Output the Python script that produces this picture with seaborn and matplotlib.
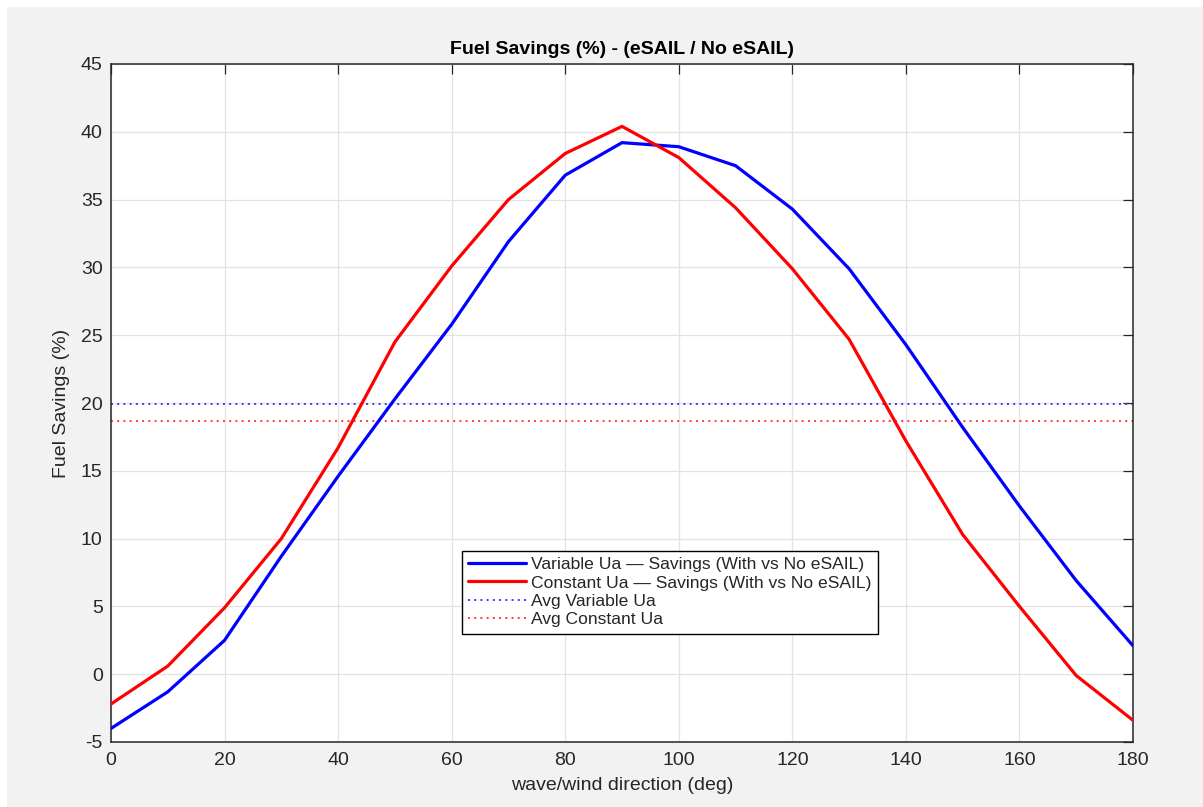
import numpy as np
import pandas as pd
import matplotlib
matplotlib.use("Agg")
import matplotlib.pyplot as plt
from matplotlib.patches import Rectangle
import seaborn as sns

# Wave/wind direction samples (deg)
direction_deg = [0, 10, 20, 30, 40, 50, 60, 70, 80, 90,
                 100, 110, 120, 130, 140, 150, 160, 170, 180]

# Fuel savings (%) with eSAIL relative to no eSAIL
savings_variable_ua = [-4.0, -1.3, 2.5, 8.7, 14.6, 20.3, 25.8, 31.9, 36.8, 39.2,
                       38.9, 37.5, 34.3, 29.9, 24.3, 18.2, 12.4, 6.9, 2.1]
savings_constant_ua = [-2.2, 0.6, 4.9, 10.0, 16.7, 24.5, 30.1, 35.0, 38.4, 40.4,
                       38.1, 34.4, 29.9, 24.7, 17.2, 10.3, 5.0, -0.1, -3.4]

series_labels = [
    "Variable Ua \u2014 Savings (With vs No eSAIL)",
    "Constant Ua \u2014 Savings (With vs No eSAIL)",
    "Avg Variable Ua",
    "Avg Constant Ua",
]

x_ticks = [0, 20, 40, 60, 80, 100, 120, 140, 160, 180]
y_ticks = [-5, 0, 5, 10, 15, 20, 25, 30, 35, 40, 45]

sns.set_style("white")
plt.rcParams["font.family"] = ["Liberation Sans", "DejaVu Sans"]
plt.rcParams["axes.unicode_minus"] = False

W, H = 1203, 807
fig = plt.figure(figsize=(W / 100, H / 100), dpi=100)
fig.patch.set_facecolor("white")
fig.add_artist(Rectangle((7 / W, 0), 1 - 7 / W, 1 - 7 / H, transform=fig.transFigure,
                         facecolor="#f2f2f2", edgecolor="none", zorder=-10))

ax = fig.add_axes([111 / W, 1 - 742 / H, 1022 / W, 678 / H])
ax.set_facecolor("white")

df = pd.DataFrame({
    "deg": direction_deg * 2,
    "savings": savings_variable_ua + savings_constant_ua,
    "series": [series_labels[0]] * len(direction_deg) + [series_labels[1]] * len(direction_deg),
})

sns.lineplot(data=df, x="deg", y="savings", hue="series",
             palette={series_labels[0]: "#0000ff", series_labels[1]: "#ff0000"},
             linewidth=2.3, legend=False, ax=ax, sort=False, zorder=3)

avg_var = np.mean(savings_variable_ua)
avg_const = np.mean(savings_constant_ua)
ax.axhline(avg_var, color="#3a3aff", linestyle=(0, (1, 2.2)), linewidth=1.4, zorder=2)
ax.axhline(avg_const, color="#ff3a3a", linestyle=(0, (1, 2.2)), linewidth=1.4, zorder=2)

ax.set_xlim(0, 180)
ax.set_ylim(-5, 45)
ax.set_xticks(x_ticks)
ax.set_yticks(y_ticks)
ax.grid(True, color="#e3e3e3", linewidth=0.9)
ax.set_axisbelow(True)

dark = "#262626"
for s in ax.spines.values():
    s.set_color(dark)
    s.set_linewidth(1.1)
ax.tick_params(direction="in", length=7, width=0.9, top=True, right=True,
               colors=dark, labelsize=14)
ax.tick_params(axis="x", pad=7)
ax.tick_params(axis="y", pad=6)

ax.set_xlabel("wave/wind direction (deg)", fontsize=14, color=dark, labelpad=6)
ax.set_ylabel("Fuel Savings (%)", fontsize=14, color=dark, labelpad=8)
ax.set_title("Fuel Savings (%) - (eSAIL / No eSAIL)", fontsize=14,
             fontweight="bold", color="black", pad=7)

leg = ax.legend(ax.lines[:4], series_labels, loc="lower left",
                bbox_to_anchor=(0.3434, 0.160), borderaxespad=0,
                fontsize=12.6, frameon=True, fancybox=False, framealpha=1,
                edgecolor="black", handlelength=3.3, handletextpad=0.3,
                labelspacing=0.18, borderpad=0.35)
leg.get_frame().set_linewidth(1.0)
for t in leg.get_texts():
    t.set_color(dark)

fig.savefig("out.png", dpi=100, facecolor=fig.get_facecolor())
